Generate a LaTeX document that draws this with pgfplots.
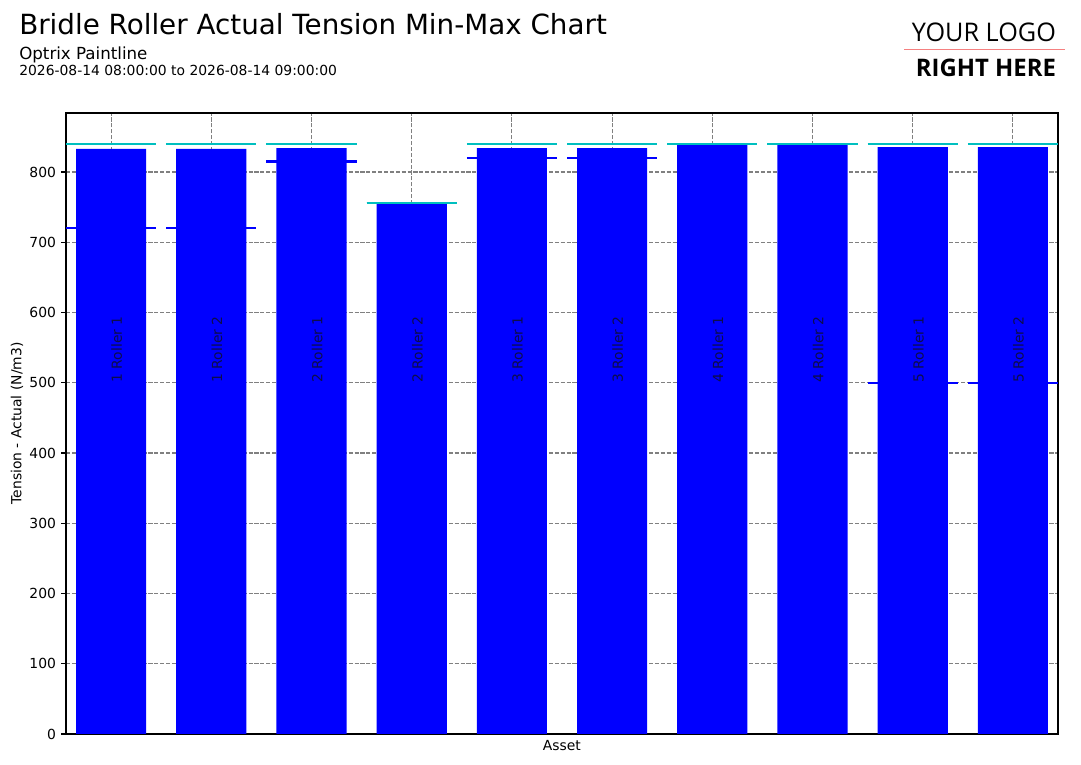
\documentclass[border=0pt]{standalone}
\usepackage{pgfplots}
\pgfplotsset{compat=1.18}
\usepackage{fontspec}
\setmainfont{DejaVu Sans}
\newfontfamily\logofont{Open Sans}
\definecolor{maxc}{rgb}{0,0.75,0.75}
\definecolor{minc}{rgb}{0,0,1}
\definecolor{barc}{rgb}{0,0,1}
\definecolor{gridc}{rgb}{0.5,0.5,0.5}
\definecolor{logoline}{rgb}{0.96,0.5,0.5}
\definecolor{labc}{rgb}{0.05,0.05,0.3}
\begin{document}
\begin{tikzpicture}
\path[use as bounding box, fill=white] (0,0) rectangle (778.32bp,550.08bp);
\begin{axis}[
  at={(47.52bp,21.6bp)}, anchor=south west, scale only axis,
  width=714.24bp, height=447.12bp,
  xmin=-0.45, xmax=9.45, ymin=0, ymax=884,
  xtick={0,1,2,3,4,5,6,7,8,9}, xticklabels={,,,,,,,,,},
  ytick={0,100,200,300,400,500,600,700,800},
  ytick pos=left,
  grid=major,
  major grid style={gridc, dash pattern=on 2.96bp off 1.28bp, line width=0.8bp},
  axis line style={line width=0.8bp},
  tick align=outside, major tick length=3.5bp,
  xtick style={draw=none},
  ytick style={black, line width=0.8bp},
  yticklabel style={font=\fontsize{10bp}{12bp}\selectfont, inner sep=0pt, anchor=east, xshift=-3.5bp},
  /pgf/number format/assume math mode=true,
  clip=true,
]
\addplot[ybar, bar width=0.7, fill=barc, draw=none] coordinates {
 (0,833) (1,833) (2,834) (3,754.5) (4,834) (5,834) (6,838.5) (7,838.5) (8,835.5) (9,835.5)};
\addplot[minc, line width=1.5bp, mark=none, unbounded coords=jump] coordinates {
 (-0.45,720) (0.45,720) (0.5,nan)
 (0.55,720) (1.45,720) (1.5,nan)
 (1.55,815) (2.45,815) (2.5,nan)
 (2.55,756) (3.45,756) (3.5,nan)
 (3.55,820) (4.45,820) (4.5,nan)
 (4.55,820) (5.45,820) (5.5,nan)
 (5.55,840) (6.45,840) (6.5,nan)
 (6.55,840) (7.45,840) (7.5,nan)
 (7.55,500) (8.45,500) (8.5,nan)
 (8.55,500) (9.45,500)};
\addplot[maxc, line width=1.5bp, mark=none, unbounded coords=jump] coordinates {
 (-0.45,840) (0.45,840) (0.5,nan)
 (0.55,840) (1.45,840) (1.5,nan)
 (1.55,840) (2.45,840) (2.5,nan)
 (2.55,756.5) (3.45,756.5) (3.5,nan)
 (3.55,840) (4.45,840) (4.5,nan)
 (4.55,840) (5.45,840) (5.5,nan)
 (5.55,840) (6.45,840) (6.5,nan)
 (6.55,840) (7.45,840) (7.5,nan)
 (7.55,840) (8.45,840) (8.5,nan)
 (8.55,840) (9.45,840)};
\tikzset{bl/.style={rotate=90, anchor=north west, inner sep=0pt, text=labc, font=\fontsize{10bp}{12bp}\selectfont}}
\node[bl] at (axis cs:0,500) {1 Roller 1};
\node[bl] at (axis cs:1,500) {1 Roller 2};
\node[bl] at (axis cs:2,500) {2 Roller 1};
\node[bl] at (axis cs:3,500) {2 Roller 2};
\node[bl] at (axis cs:4,500) {3 Roller 1};
\node[bl] at (axis cs:5,500) {3 Roller 2};
\node[bl] at (axis cs:6,500) {4 Roller 1};
\node[bl] at (axis cs:7,500) {4 Roller 2};
\node[bl] at (axis cs:8,500) {5 Roller 1};
\node[bl] at (axis cs:9,500) {5 Roller 2};
\end{axis}
% titles
\node[anchor=base west, inner sep=0pt, font=\fontsize{20bp}{24bp}\selectfont] at (13.68bp,524.9bp) {Bridle Roller Actual Tension Min-Max Chart};
\node[anchor=base west, inner sep=0pt, font=\fontsize{12bp}{14bp}\selectfont] at (13.68bp,506.9bp) {Optrix Paintline};
\node[anchor=base west, inner sep=0pt, font=\fontsize{10bp}{12bp}\selectfont] at (13.68bp,495.4bp) {2026-08-14 08:00:00 to 2026-08-14 09:00:00};
% axis labels
\node[rotate=90, anchor=center, inner sep=0pt, font=\fontsize{10bp}{12bp}\selectfont] at (12.3bp,245.2bp) {Tension - Actual (N/m3)};
\node[anchor=base, inner sep=0pt, font=\fontsize{10bp}{12bp}\selectfont] at (404.6bp,9.4bp) {Asset};
% logo
\node[anchor=base west, inner sep=0pt] at (656.4bp,520.1bp) {\resizebox{103.7bp}{13.4bp}{\logofont YOUR LOGO}};
\draw[logoline, line width=0.72bp] (650.9bp,514.1bp) -- (766.8bp,514.1bp);
\node[anchor=base west, inner sep=0pt] at (659.3bp,494.9bp) {\resizebox{100.8bp}{12.6bp}{\logofont\bfseries RIGHT HERE}};
\end{tikzpicture}
\end{document}
